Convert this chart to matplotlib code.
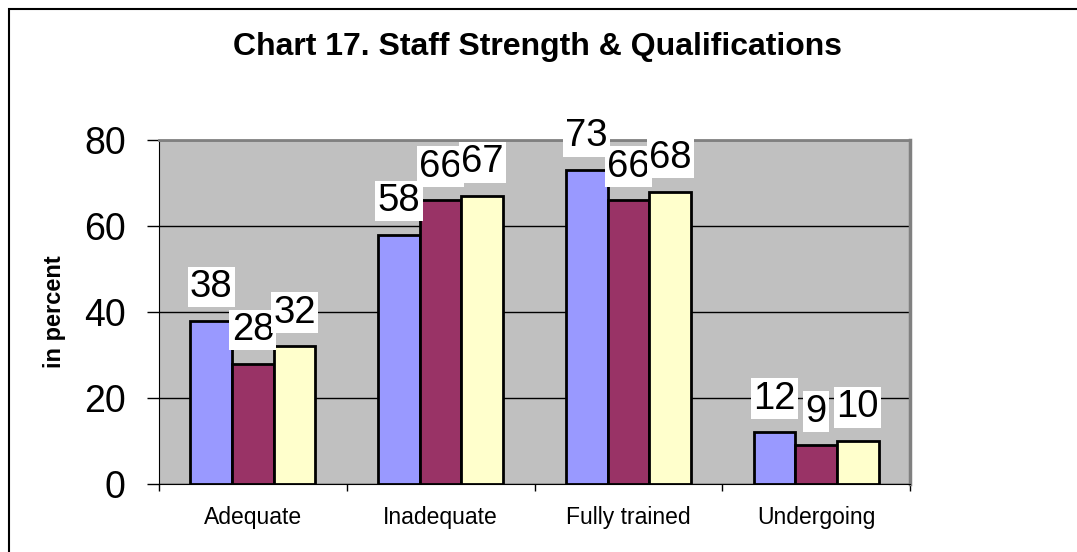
import matplotlib
matplotlib.use('Agg')
import matplotlib.pyplot as plt
import numpy as np
from matplotlib.patches import Rectangle

categories = ['Adequate', 'Inadequate', 'Fully trained', 'Undergoing']
series1 = [38, 58, 73, 12]
series2 = [28, 66, 66, 9]
series3 = [32, 67, 68, 10]
yticks = [0, 20, 40, 60, 80]

colors = ['#9999FF', '#993366', '#FFFFCC']

plt.rcParams['font.family'] = ['Liberation Sans', 'DejaVu Sans']

fig = plt.figure(figsize=(10.77, 5.52), dpi=100)
ax = fig.add_axes([159/1077, 68/552, 751/1077, 344/552])
ax.set_facecolor('#C0C0C0')

x = np.arange(len(categories))
w = 1 / 4.5   # excel gap width 150%
for i, vals in enumerate([series1, series2, series3]):
    xs = x + (i - 1) * w
    ax.bar(xs, vals, width=w, color=colors[i], edgecolor='black', linewidth=2.0, zorder=3)

# data labels, drawn after all bars so the boxes sit on top
for i, vals in enumerate([series1, series2, series3]):
    xs = x + (i - 1) * w
    for xx, v in zip(xs, vals):
        ax.annotate(str(v), (xx, v), xytext=(0, 17), textcoords='offset points',
                    ha='center', va='baseline', fontsize=27.5, zorder=5, annotation_clip=False,
                    bbox=dict(boxstyle='square,pad=0.06', fc='white', ec='none'))

ax.set_xlim(-0.5, 3.5)
ax.set_ylim(0, 80)
ax.set_yticks(yticks)
ax.tick_params(axis='y', labelsize=27, length=9, width=1, pad=15, direction='out')
ax.yaxis.grid(True, color='black', linewidth=1, zorder=1)
ax.set_axisbelow(True)

ax.set_xticks(x)
ax.set_xticklabels(categories, fontsize=16.5)
ax.set_xticks(np.arange(-0.5, 4, 1), minor=True)
ax.tick_params(axis='x', which='major', length=0, pad=16)
ax.tick_params(axis='x', which='minor', length=5, width=1, direction='out')

ax.spines['left'].set_color('black')
ax.spines['bottom'].set_color('black')
ax.spines['top'].set_color('#808080')
ax.spines['right'].set_color('#808080')
ax.spines['top'].set_linewidth(2)
ax.spines['right'].set_linewidth(2.5)

fig.text(0.499, (552 - 55) / 552, 'Chart 17. Staff Strength & Qualifications',
         ha='center', va='baseline', fontsize=23, fontweight='bold')
fig.text(54 / 1077, 0.435, 'in percent', rotation=90, ha='center', va='center',
         fontsize=17, fontweight='bold')

# outer chart border (only top and left are inside the image)
fig.patches.append(Rectangle((8.5 / 1077, -0.2), 1.2, 0.2 + 543.5 / 552, transform=fig.transFigure,
                             fill=False, edgecolor='black', linewidth=1.5))

fig.savefig('out.png', dpi=100)
